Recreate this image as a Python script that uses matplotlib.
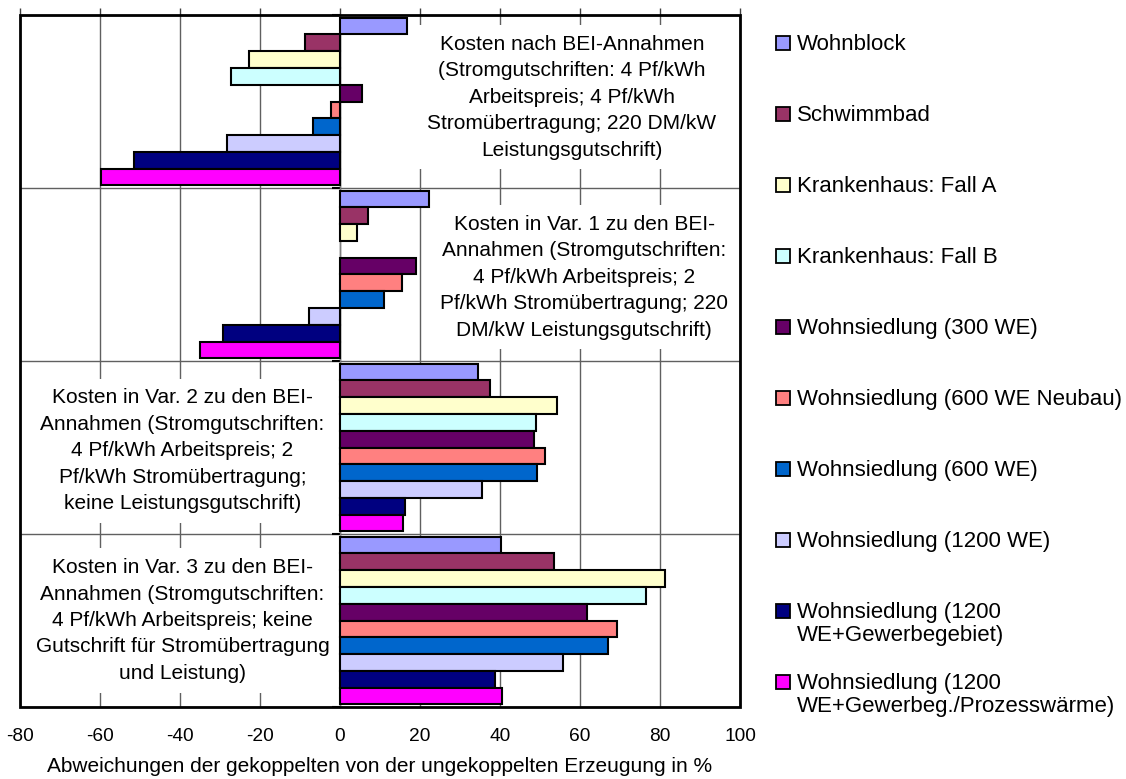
import matplotlib
matplotlib.use("Agg")
import matplotlib.pyplot as plt
import numpy as np
from matplotlib.patches import Rectangle

plt.rcParams['font.family'] = ['Liberation Sans', 'DejaVu Sans']
plt.rcParams['axes.unicode_minus'] = False

# series (same order inside every group, top to bottom)
series = ["Wohnblock", "Schwimmbad", "Krankenhaus: Fall A", "Krankenhaus: Fall B",
          "Wohnsiedlung (300 WE)", "Wohnsiedlung (600 WE Neubau)", "Wohnsiedlung (600 WE)",
          "Wohnsiedlung (1200 WE)", "Wohnsiedlung (1200\nWE+Gewerbegebiet)",
          "Wohnsiedlung (1200\nWE+Gewerbeg./Prozesswärme)"]
colors = ["#9999FF", "#993366", "#FFFFCC", "#CCFFFF", "#660066",
          "#FF8080", "#0066CC", "#CCCCFF", "#000080", "#FF00FF"]

# values in % per group (top to bottom)
bei = [16.7, -8.8, -22.7, -27.2, 5.6, -2.2, -6.7, -28.2, -51.5, -59.8]
var1 = [22.3, 7.1, 4.3, np.nan, 19.0, 15.5, 10.9, -7.8, -29.3, -35.1]
var2 = [34.4, 37.5, 54.3, 49.1, 48.4, 51.3, 49.3, 35.4, 16.3, 15.8]
var3 = [40.2, 53.5, 81.3, 76.5, 61.8, 69.2, 66.9, 55.7, 38.7, 40.5]
groups = [bei, var1, var2, var3]

group_texts = [
    "Kosten nach BEI-Annahmen\n(Stromgutschriften: 4 Pf/kWh\nArbeitspreis; 4 Pf/kWh\nStromübertragung; 220 DM/kW\nLeistungsgutschrift)",
    "Kosten in Var. 1 zu den BEI-\nAnnahmen (Stromgutschriften:\n4 Pf/kWh Arbeitspreis; 2\nPf/kWh Stromübertragung; 220\nDM/kW Leistungsgutschrift)",
    "Kosten in Var. 2 zu den BEI-\nAnnahmen (Stromgutschriften:\n4 Pf/kWh Arbeitspreis; 2\nPf/kWh Stromübertragung;\nkeine Leistungsgutschrift)",
    "Kosten in Var. 3 zu den BEI-\nAnnahmen (Stromgutschriften:\n4 Pf/kWh Arbeitspreis; keine\nGutschrift für Stromübertragung\nund Leistung)",
]
text_x = [58, 61, -39.4, -39.4]
text_y = [0.475, 1.515, 2.52, 3.50]

W, H = 1126, 779
fig = plt.figure(figsize=(W / 100, H / 100), dpi=100)
ax = fig.add_axes([20 / W, 1 - 707 / H, 720 / W, 692 / H])

gap = 0.03
h = (1 - gap) / len(series)
for i, (name, col) in enumerate(zip(series, colors)):
    ys = [g + gap / 2 + (i + 0.5) * h for g in range(len(groups))]
    vals = [grp[i] for grp in groups]
    ax.barh(ys, vals, height=h, color=col, edgecolor='black', linewidth=1.5, zorder=3)

ax.set_xlim(-80, 100)
ax.set_ylim(len(groups), 0)

# x axis: ticks on top, labels at bottom
ax.set_xticks(np.arange(-80, 101, 20))
ax.tick_params(axis='x', bottom=False, top=True, labelbottom=True, labeltop=False,
               length=5, width=1, color='#404040', labelsize=13.8, pad=10)
ax.set_xlabel("Abweichungen der gekoppelten von der ungekoppelten Erzeugung in %",
              fontsize=15, labelpad=9)

# y axis sits at x=0
ax.spines['left'].set_position(('data', 0))
ax.spines['left'].set_color('#808080')
ax.spines['left'].set_linewidth(1)
for s in ['top', 'right', 'bottom']:
    ax.spines[s].set_visible(False)
ax.set_yticks(np.arange(len(groups) + 1))
ax.set_yticklabels([])
ax.tick_params(axis='y', length=6, width=1.5, color='black', direction='out')

ax.grid(True, color='#606060', linewidth=1)
ax.set_axisbelow(True)
ax.add_patch(Rectangle((0, 0), 1, 1, transform=ax.transAxes, fill=False,
                       edgecolor='black', linewidth=2, zorder=5, clip_on=False))

for tx, ty, t in zip(text_x, text_y, group_texts):
    ax.text(tx, ty, t, ha='center', va='center', multialignment='center',
            fontsize=15, linespacing=1.5, zorder=2.5,
            bbox=dict(facecolor='white', edgecolor='none', pad=7))

# legend
for i, (name, col) in enumerate(zip(series, colors)):
    yc = 43 + 71 * i
    fig.add_artist(Rectangle((776 / W, 1 - (yc + 7) / H), 14 / W, 14 / H,
                             facecolor=col, edgecolor='black', linewidth=1.3))
    fig.text(797 / W, 1 - (yc - 9) / H, name, fontsize=16, va='top', ha='left',
             linespacing=1.1)

fig.savefig("out.png", dpi=100)
